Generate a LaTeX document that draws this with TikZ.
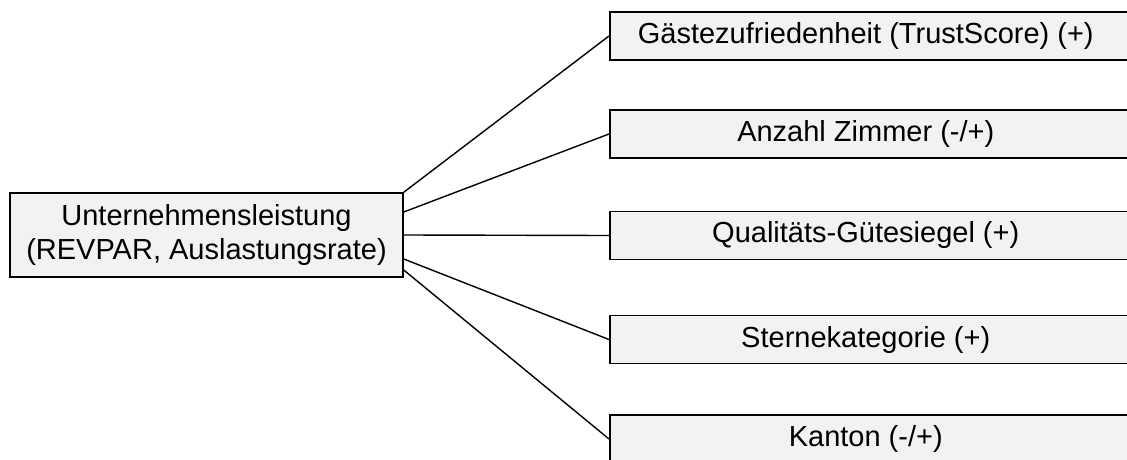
\documentclass[tikz,border=0pt]{standalone}
\usepackage{fontspec}
\setmainfont{Liberation Sans}
\definecolor{boxgray}{HTML}{F2F2F2}
\begin{document}
\begin{tikzpicture}[x=1pt,y=-1pt,
  lbox/.style={draw=black, line width=1.5pt, fill=boxgray, inner sep=0pt,
    minimum width=393pt, minimum height=84pt, align=center,
    font=\fontsize{29}{34}\selectfont},
  rbox/.style={draw=black, line width=1.5pt, fill=boxgray, inner sep=0pt,
    minimum width=531pt, minimum height=48pt, anchor=west,
    font=\fontsize{29}{34}\selectfont, execute at end node={\hspace{19pt}}},
  conn/.style={draw=black, line width=1.4pt}]
\useasboundingbox (0,0) rectangle (1127,460);
\clip (0,0) rectangle (1127,460);
\node[lbox] (L) at (206.5,235) {Unternehmensleistung\\(REVPAR, Auslastungsrate)};
\node[rbox] (r1) at (609,36) {Gästezufriedenheit (TrustScore) (+)};
\node[rbox] (r2) at (609,134) {Anzahl Zimmer (-/+)};
\node[rbox] (r3) at (609,235.5) {Qualitäts-Gütesiegel (+)};
\node[rbox] (r4) at (609,339.5) {Sternekategorie (+)};
\node[rbox] (r5) at (609,439) {Kanton (-/+)};
\draw[conn] (L.north east) -- (r1.west);
\draw[conn] ([yshift=23pt]L.east) -- (r2.west);
\draw[conn] (L.east) -- (r3.west);
\draw[conn] ([yshift=-24pt]L.east) -- (r4.west);
\draw[conn] ([yshift=-35pt]L.east) -- (r5.west);
\end{tikzpicture}
\end{document}
